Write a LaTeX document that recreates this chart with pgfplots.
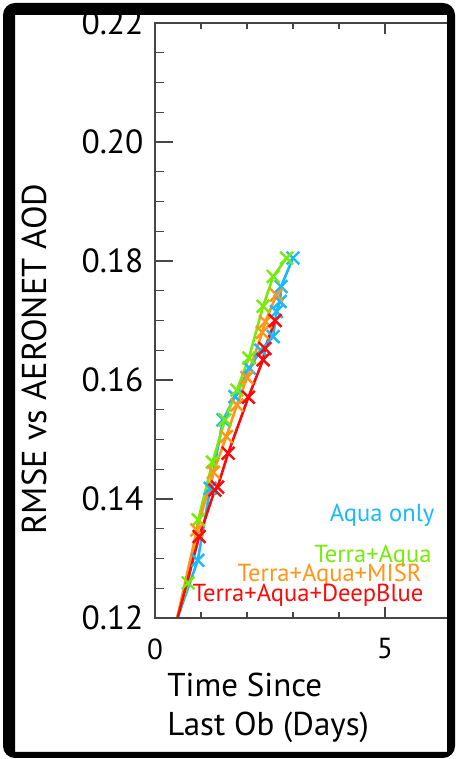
\documentclass[border=0pt]{standalone}
\usepackage{fontspec}
\setmainfont{PT Sans}
\usepackage{pgfplots}
\pgfplotsset{compat=1.18}
\definecolor{cAqua}{RGB}{25,185,255}
\definecolor{cTA}{RGB}{120,235,10}
\definecolor{cMISR}{RGB}{255,150,25}
\definecolor{cDB}{RGB}{250,10,10}
\definecolor{axgray}{RGB}{70,70,70}
\begin{document}
\begin{tikzpicture}[x=1pt,y=1pt]
\useasboundingbox (0,0) rectangle (456,759);
\fill[white] (0,0) rectangle (456,759);
\pgfplotsset{
  base/.style={
    at={(155pt,141pt)}, anchor=south west, scale only axis,
    width=294.4pt, height=595pt,
    xmin=0, xmax=6.4, ymin=0.12, ymax=0.22,
    axis line style={draw=axgray, line width=1.4pt},
    tick style={draw=axgray, line width=1.3pt},
    scaled ticks=false,
  }
}
\begin{axis}[base,
  xtick=\empty,
  ytick={0.12,0.14,0.16,0.18,0.20,0.22},
  minor y tick num=3,
  ytick pos=left,
  major tick length=18pt, minor tick length=9pt,
  yticklabel style={font=\fontsize{33.5}{33.5}\selectfont,
    /pgf/number format/fixed, /pgf/number format/fixed zerofill,
    /pgf/number format/precision=2,
    /pgf/number format/assume math mode=true, xshift=-8pt},
  ylabel={RMSE vs AERONET AOD},
  ylabel style={at={(axis description cs:-0.41,0.435)}, anchor=center,
    font=\fontsize{34.5}{34.5}\selectfont},
  every axis plot/.append style={line width=2.6pt, mark=x, mark size=9pt,
    mark options={line width=2.4pt, solid}},
]
\addplot[color=cAqua] coordinates {
 (0.42,0.1185) (0.93,0.1297) (1.20,0.1418) (1.48,0.1533) (1.74,0.1572)
 (2.05,0.1620) (2.30,0.1650) (2.57,0.1673) (2.64,0.1715) (2.72,0.1732)
 (2.74,0.1757) (3.00,0.1805)};
\addplot[color=cTA] coordinates {
 (0.47,0.1198) (0.72,0.1259) (0.94,0.1365) (1.25,0.1462) (1.52,0.1533)
 (1.78,0.1583) (2.04,0.1637) (2.35,0.1724) (2.57,0.1774) (2.86,0.1805)};
\addplot[color=cMISR] coordinates {
 (0.44,0.1185) (0.91,0.1348) (1.27,0.1445) (1.55,0.1505) (1.78,0.1558)
 (2.00,0.1604) (2.33,0.1680) (2.40,0.1698) (2.64,0.1743)};
\addplot[color=cDB] coordinates {
 (0.44,0.1185) (0.96,0.1337) (1.30,0.1415) (1.36,0.1420) (1.59,0.1477)
 (2.03,0.1571) (2.35,0.1634) (2.39,0.1653) (2.61,0.1700)};
\node[anchor=base east, text=cAqua, font=\fontsize{24.6}{24.6}\selectfont] at (axis cs:6.152,0.1362) {Aqua only};
\node[anchor=base east, text=cTA, font=\fontsize{24.6}{24.6}\selectfont] at (axis cs:6.087,0.1293) {Terra+Aqua};
\node[anchor=base east, text=cMISR, font=\fontsize{24.6}{24.6}\selectfont] at (axis cs:5.870,0.1261) {Terra+Aqua+MISR};
\node[anchor=base east, text=cDB, font=\fontsize{24.6}{24.6}\selectfont] at (axis cs:5.913,0.1227) {Terra+Aqua+DeepBlue};
\end{axis}
\begin{axis}[base,
  ytick=\empty,
  xtick={0,5}, minor x tick num=4,
  tick pos=both, xticklabel pos=lower,
  major tick length=11pt, minor tick length=6pt,
  xticklabel style={font=\fontsize{29}{29}\selectfont,
    /pgf/number format/assume math mode=true, yshift=-17pt},
  xlabel={Time Since\\Last Ob (Days)},
  xlabel style={at={(axis description cs:0.03,-0.0857)}, anchor=north west,
    align=left, font=\fontsize{33}{39}\selectfont},
]
\end{axis}
\fill[black, even odd rule] [rounded corners=12pt] (3,1) rectangle (455,756) [sharp corners] (15,7) rectangle (447,744);
\end{tikzpicture}
\end{document}
